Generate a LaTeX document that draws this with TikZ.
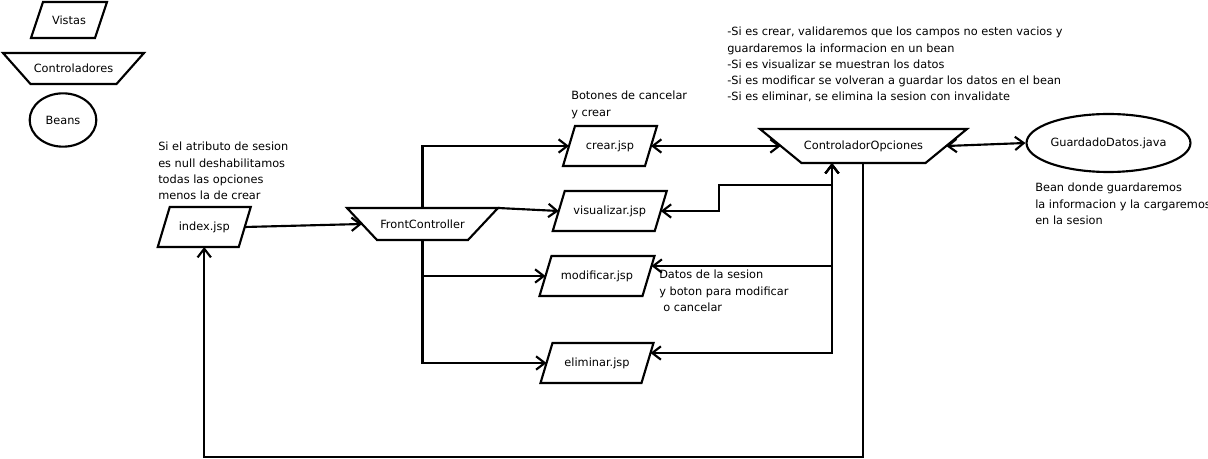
\documentclass[tikz,border=0pt]{standalone}
\usepackage{fontspec}
\setmainfont{DejaVu Sans}
\usetikzlibrary{arrows.meta,shapes.geometric}
\newcommand\paraShape[6]{%
  \draw[shapeline] (#2-#4+6,#3-#5) -- (#2+#4+6,#3-#5) -- (#2+#4-6,#3+#5) -- (#2-#4-6,#3+#5) -- cycle;
  \node[txt] (#1) at (#2,#3) {#6};
  \coordinate (#1-e) at (#2+#4,#3);
  \coordinate (#1-w) at (#2-#4,#3);
  \coordinate (#1-n) at (#2,#3-#5);
  \coordinate (#1-s) at (#2,#3+#5);}
\newcommand\trapShape[7]{%
  \draw[shapeline] (#2-#4,#3-#6) -- (#2+#4,#3-#6) -- (#2+#5,#3+#6) -- (#2-#5,#3+#6) -- cycle;
  \node[txt] (#1) at (#2,#3) {#7};
  \coordinate (#1-e) at (#2+#4/2+#5/2,#3);
  \coordinate (#1-w) at (#2-#4/2-#5/2,#3);
  \coordinate (#1-ne) at (#2+#4,#3-#6);
  \coordinate (#1-n) at (#2,#3-#6);
  \coordinate (#1-s) at (#2,#3+#6);}
\begin{document}
\begin{tikzpicture}[x=0.75pt,y=-0.75pt,
  shapeline/.style={draw=black,line width=1.6pt,line join=miter},
  txt/.style={inner sep=0pt,font=\fontsize{8.5}{10}\selectfont},
  lbl/.style={inner sep=0pt,anchor=north west,align=left,font=\fontsize{8.5}{12.2}\selectfont},
  conn/.style={line width=1.6pt,-{Straight Barb[length=6.5pt,width=10pt]}},
  conntwo/.style={line width=1.6pt,{Straight Barb[length=6.5pt,width=10pt]}-{Straight Barb[length=6.5pt,width=10pt]}},
  oval/.style={draw=black,line width=1.6pt,ellipse,inner sep=0pt,font=\fontsize{8.5}{10}\selectfont}]
\useasboundingbox (0,0) rectangle (1208,459);

% legend
\paraShape{vistas}{69}{20}{32}{18}{Vistas}
\trapShape{ctrls}{73.5}{68.5}{70.5}{43}{15.5}{Controladores}
\node[oval,minimum width=50pt,minimum height=40pt] (beans) at (63,120) {Beans};

% main shapes
\paraShape{index}{204.25}{227}{40.5}{20}{index.jsp}
\trapShape{fc}{422.5}{224}{75.5}{45.5}{16}{FrontController}
\paraShape{crear}{610}{146}{41}{20}{crear.jsp}
\paraShape{vis}{609.75}{211}{51}{20}{visualizar.jsp}
\paraShape{mod}{597}{276}{51.5}{20}{modificar.jsp}
\paraShape{elim}{597}{363}{50.5}{20}{eliminar.jsp}
\trapShape{co}{863.5}{146}{103.5}{62}{17}{ControladorOpciones}
\node[oval,minimum width=113pt,minimum height=43.5pt] (guard) at (1108.5,143) {GuardadoDatos.java};

\coordinate (mod-e2) at (651.5,266);
\coordinate (elim-e2) at (650.5,353);
\coordinate (co-b1) at (832,163);
\coordinate (co-b2) at (863,163);

% labels
\node[lbl] (t1) at (158,142) {Si el atributo de sesion\\es null deshabilitamos\\todas las opciones\\menos la de crear};
\node[lbl] (t2) at (571,91) {Botones de cancelar\\y crear};
\node[lbl] (t3) at (727,27) {-Si es crear, validaremos que los campos no esten vacios y\\guardaremos la informacion en un bean\\-Si es visualizar se muestran los datos\\-Si es modificar se volveran a guardar los datos en el bean\\-Si es eliminar, se elimina la sesion con invalidate};
\node[lbl] (t4) at (659,270) {Datos de la sesion\\y boton para modificar\\\hspace*{3pt}o cancelar};
\node[lbl] (t5) at (1035,183) {Bean donde guardaremos\\la informacion y la cargaremos\\en la sesion};

% connectors
\draw[conn] (index-e) -- (fc-w);
\draw[conn] (fc-n) |- (crear-w);
\draw[conn] (fc-ne) -- (vis-w);
\draw[conn] (fc-s) |- (mod-w);
\draw[conn] (fc-s) |- (elim-w);
\draw[conntwo] (crear-e) -- (co-w);
\draw[conntwo] (co-e) -- (guard.west);
\draw[conntwo] (vis-e) -| (719,185) -| (co-b1);
\draw[conntwo] (mod-e2) -| (co-b1);
\draw[conntwo] (elim-e2) -| (co-b1);
\draw[conn] (co-b2) -- (863,457) -| (index-s);
\end{tikzpicture}
\end{document}
